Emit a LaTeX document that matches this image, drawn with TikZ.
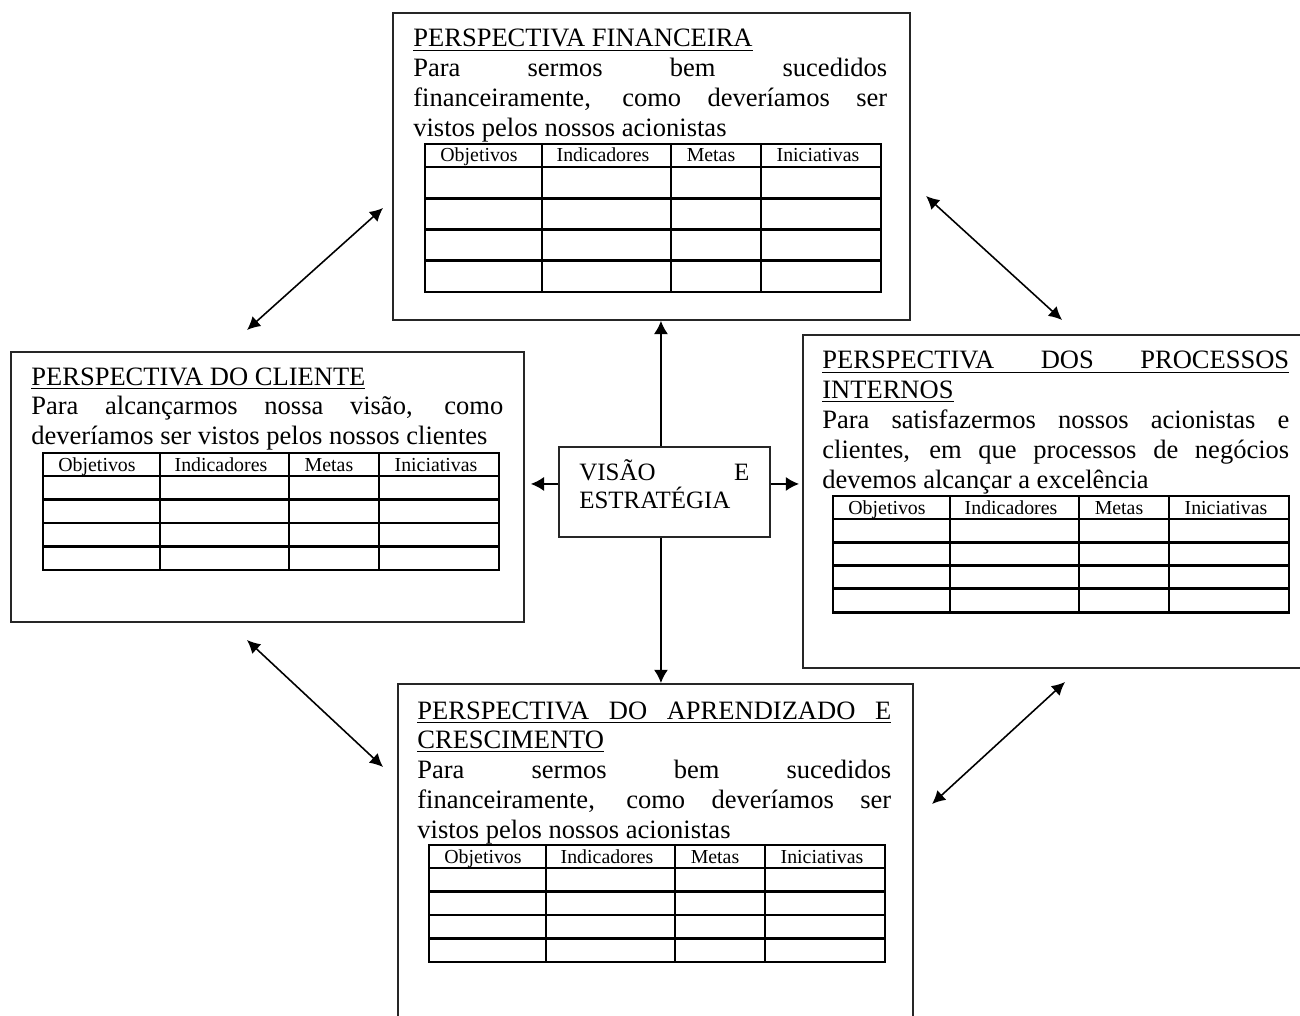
\documentclass[tikz,border=0pt]{standalone}
\usepackage{fontspec}
\setmainfont{Liberation Serif}
\usetikzlibrary{arrows.meta}

\hyphenpenalty=10000
\tolerance=10000
\newcommand{\corpo}{\fontsize{15.1}{17}\selectfont}
\newcommand{\corpovis}{\fontsize{14.2}{16}\selectfont}
\newcommand{\cabfont}{\fontsize{11.3}{13}\selectfont}
% titulo sublinhado que ocupa a linha inteira
\newcommand{\titlinha}[1]{\underline{\makebox[\linewidth][s]{#1}}}

% tabela de 4 colunas: #1 nome, #2 canto superior esquerdo, #3 altura das linhas
\newcommand{\tabela}[3]{%
  \begin{scope}[shift={#2}]
    \draw[grade] (0,0) rectangle (456,{23+4*#3});
    \foreach \cx in {117,246,336} \draw[grade] (\cx,0) -- (\cx,{23+4*#3});
    \foreach \k in {0,1,2,3} \draw[grade] (0,{23+\k*#3}) -- (456,{23+\k*#3});
    \node[cab] (#1-obj) at (54,18) {Objetivos};
    \node[cab] (#1-ind) at (178,18) {Indicadores};
    \node[cab] (#1-met) at (286,18) {Metas};
    \node[cab] (#1-ini) at (393,18) {Iniciativas};
  \end{scope}}

\begin{document}
\begin{tikzpicture}[
    x=0.02cm, y=-0.02cm,
    caixa/.style={draw=black!85, line width=1.1pt, inner sep=0pt, anchor=north west},
    texto/.style={anchor=base west, inner sep=0pt, align=justify, font=\corpo},
    grade/.style={line width=1.6pt, line cap=rect},
    cab/.style={anchor=base, inner sep=0pt, font=\cabfont},
    seta/.style={-{Latex[length=7.5pt, width=8pt]}, line width=0.9pt},
    seta2/.style={{Latex[length=7.5pt, width=7.5pt]}-{Latex[length=7.5pt, width=7.5pt]}, line width=0.9pt}
]
    \useasboundingbox (0,0) rectangle (1300,1016);

    % Perspectiva financeira
    \node[caixa, minimum width=10.34cm, minimum height=6.14cm] (fin) at (392,12) {};
    \node[texto, text width=9.48cm] (fintxt) at (413,47)
        {\underline{PERSPECTIVA FINANCEIRA}\\
         Para sermos bem sucedidos\linebreak
         financeiramente, como deveríamos ser\linebreak
         vistos pelos nossos acionistas};
    \tabela{fintab}{(425,144)}{31.25}

    % Perspectiva do cliente
    \node[caixa, minimum width=10.26cm, minimum height=5.4cm] (cli) at (10,351) {};
    \node[texto, text width=9.44cm] (clitxt) at (31,385)
        {\underline{PERSPECTIVA DO CLIENTE}\\
         Para alcançarmos nossa visão, como\linebreak
         deveríamos ser vistos pelos nossos clientes};
    \tabela{clitab}{(43,453)}{23.5}

    % Perspectiva dos processos internos
    \node[caixa, minimum width=10.4cm, minimum height=6.66cm] (proc) at (802,334) {};
    \node[texto, text width=9.34cm] (proctxt) at (822,369)
        {\titlinha{PERSPECTIVA DOS PROCESSOS}\\
         \underline{INTERNOS}\\
         Para satisfazermos nossos acionistas e\linebreak
         clientes, em que processos de negócios\linebreak
         devemos alcançar a excelência};
    \tabela{proctab}{(833,496)}{23.3}

    % Perspectiva do aprendizado e crescimento
    \node[caixa, minimum width=10.3cm, minimum height=7.2cm] (apr) at (397,683) {};
    \node[texto, text width=9.48cm] (aprtxt) at (417,719)
        {\titlinha{PERSPECTIVA DO APRENDIZADO E}\\
         \underline{CRESCIMENTO}\\
         Para sermos bem sucedidos\linebreak
         financeiramente, como deveríamos ser\linebreak
         vistos pelos nossos acionistas};
    \tabela{aprtab}{(429,845)}{23.5}

    % Visao e estrategia
    \node[caixa, minimum width=4.22cm, minimum height=1.8cm] (vis) at (558,446) {};
    \node[texto, font=\corpovis, text width=3.4cm] (vistxt) at (579,480)
        {VISÃO E\linebreak ESTRATÉGIA};

    % Setas do centro
    \coordinate (visn) at ([xshift=-0.07cm]vis.north);
    \coordinate (viss) at ([xshift=-0.07cm]vis.south);
    \coordinate (visw) at ([yshift=0.16cm]vis.west);
    \coordinate (vise) at ([yshift=0.16cm]vis.east);
    \draw[seta] (visn) -- (visn |- fin.south);
    \draw[seta] (viss) -- (viss |- apr.north);
    \draw[seta, shorten >=0.12cm] (visw) -- (visw -| cli.east);
    \draw[seta, shorten >=0.06cm] (vise) -- (vise -| proc.west);

    % Setas entre perspectivas
    \coordinate (fin-cli) at (383,208);
    \coordinate (cli-fin) at (247,330);
    \coordinate (fin-proc) at (926,196);
    \coordinate (proc-fin) at (1062,320);
    \coordinate (cli-apr) at (247,640);
    \coordinate (apr-cli) at (383,767);
    \coordinate (apr-proc) at (932,804);
    \coordinate (proc-apr) at (1065,682);
    \draw[seta2] (cli-fin) -- (fin-cli);
    \draw[seta2] (fin-proc) -- (proc-fin);
    \draw[seta2] (cli-apr) -- (apr-cli);
    \draw[seta2] (apr-proc) -- (proc-apr);
\end{tikzpicture}
\end{document}
